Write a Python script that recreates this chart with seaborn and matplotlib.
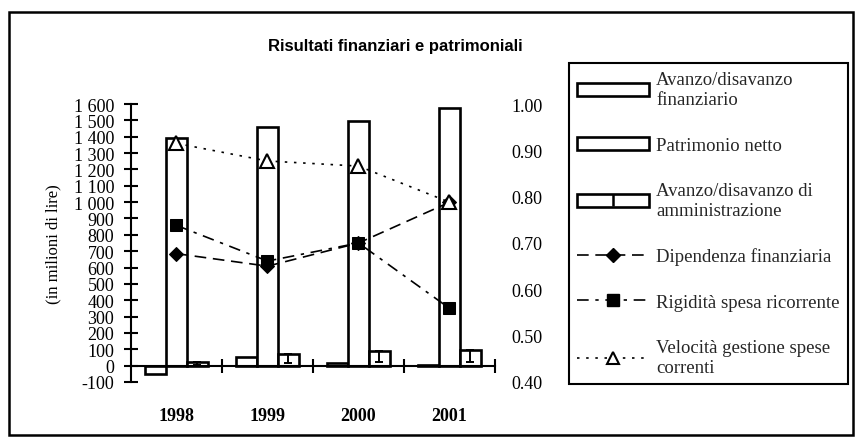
import matplotlib
matplotlib.use('Agg')
import matplotlib.pyplot as plt
import seaborn as sns
import pandas as pd
from matplotlib.patches import Patch, Rectangle
from matplotlib.lines import Line2D
from matplotlib.legend_handler import HandlerTuple

# ---------------- data ----------------
years = ['1998', '1999', '2000', '2001']
avanzo_finanziario = [-50, 55, 18, 4]
patrimonio_netto = [1395, 1460, 1495, 1575]
avanzo_amministrazione = [20, 72, 92, 96]
amministrazione_err = [14, 55, 70, 72]
dipendenza_finanziaria = [0.677, 0.650, 0.700, 0.788]
rigidita_spesa = [0.738, 0.661, 0.700, 0.559]
velocita_gestione = [0.915, 0.877, 0.866, 0.788]

bar_series = ['Avanzo/disavanzo\nfinanziario', 'Patrimonio netto',
              'Avanzo/disavanzo di\namministrazione']
line_labels = ['Dipendenza finanziaria', 'Rigidità spesa ricorrente',
               'Velocità gestione spese\ncorrenti']
left_ticks = list(range(-100, 1601, 100))
right_ticks = [0.40, 0.50, 0.60, 0.70, 0.80, 0.90, 1.00]
title = 'Risultati finanziari e patrimoniali'
ylabel = '(in milioni di lire)'

# ---------------- style ----------------
sns.set_theme(style='white')
plt.rcParams['font.family'] = ['Liberation Serif', 'DejaVu Serif']
plt.rcParams['axes.linewidth'] = 1.5

W, H = 856, 439
fig = plt.figure(figsize=(W / 100, H / 100), dpi=100)
ax = fig.add_axes([131 / W, 1 - 383 / H, 364 / W, 278 / H])

df = pd.DataFrame({
    'year': years * 3,
    'series': [s for s in bar_series for _ in years],
    'value': avanzo_finanziario + patrimonio_netto + avanzo_amministrazione,
})
sns.barplot(data=df, x='year', y='value', hue='series', hue_order=bar_series,
            palette=['white'] * 3, saturation=1, width=0.69, edgecolor='black',
            linewidth=1.9, errorbar=None, legend=False, ax=ax)

# I-beam marks inside the "amministrazione" bars
for p, e in zip(ax.containers[2], amministrazione_err):
    xc = p.get_x() + p.get_width() / 2
    top = p.get_y() + p.get_height()
    ax.errorbar(xc, top, yerr=[[e], [0]], fmt='none', ecolor='black',
                elinewidth=1.4, capsize=3, capthick=1.4, zorder=5)

ax.set_xlim(-0.5, 3.5)
ax.set_ylim(-100, 1600)
ax.set_yticks(left_ticks)
ax.set_yticklabels([f"{v:,}".replace(',', ' ') for v in left_ticks])
ax.tick_params(axis='y', direction='inout', length=10, width=1.5,
               labelsize=13, pad=7, left=True, colors='black')
for s in ['top', 'right']:
    ax.spines[s].set_visible(False)
ax.spines['bottom'].set_position(('data', 0))
ax.spines['left'].set_color('black')
ax.spines['bottom'].set_color('black')

ax.set_xticks(range(len(years)))
ax.set_xticklabels(years, fontsize=13, fontweight='bold')
ax.tick_params(axis='x', which='major', length=0, pad=30, colors='black')
ax.set_xticks([i + 0.5 for i in range(len(years))], minor=True)
ax.tick_params(axis='x', which='minor', direction='inout', length=10,
               width=1.5, bottom=True, color='black')
ax.set_xlabel('')
ax.set_ylabel(ylabel, fontsize=12, labelpad=9, color='black')

# ---------------- ratio lines (right axis) ----------------
ax2 = ax.twinx()
xpos = list(range(len(years)))
sns.lineplot(x=xpos, y=dipendenza_finanziaria, ax=ax2, color='black',
             linewidth=1.2, linestyle=(0, (7, 4)), marker='D', markersize=7,
             markeredgecolor='black', zorder=3)
sns.lineplot(x=xpos, y=rigidita_spesa, ax=ax2, color='black',
             linewidth=1.2, linestyle=(0, (7, 4, 2, 4)), marker='s',
             markersize=9, markeredgecolor='black', zorder=4)
sns.lineplot(x=xpos, y=velocita_gestione, ax=ax2, color='black',
             linewidth=1.2, linestyle=(0, (1.5, 4)), marker='^', markersize=10,
             markerfacecolor='white', markeredgecolor='black',
             markeredgewidth=1.5, zorder=5)
ax2.set_ylim(0.40, 1.00)
ax2.set_yticks(right_ticks)
ax2.set_yticklabels([f"{v:.2f}" for v in right_ticks])
ax2.tick_params(axis='y', length=0, pad=12, labelsize=13, colors='black')
for s in ax2.spines.values():
    s.set_visible(False)
ax2.set_xlim(-0.5, 3.5)

# ---------------- legend ----------------
bar_kw = dict(facecolor='white', edgecolor='black', linewidth=1.9)
handles = [
    Patch(**bar_kw),
    Patch(**bar_kw),
    (Patch(**bar_kw), Line2D([], [], marker='|', markersize=9,
                             markeredgewidth=1.8, color='black', linestyle='none')),
    Line2D([], [], color='black', lw=1.2, linestyle=(0, (7, 4)),
           marker='D', markersize=7),
    Line2D([], [], color='black', lw=1.2, linestyle=(0, (7, 4, 2, 4)),
           marker='s', markersize=9),
    Line2D([], [], color='black', lw=1.2, linestyle=(0, (1.5, 4)),
           marker='^', markersize=9, markerfacecolor='white',
           markeredgewidth=1.5),
]
leg = fig.legend(handles, bar_series + line_labels, loc='upper left',
                 bbox_to_anchor=(569 / W, 1 - 64 / H), frameon=True,
                 fancybox=False, edgecolor='black', framealpha=1,
                 fontsize=13.5, handlelength=3.8, handletextpad=0.4,
                 borderpad=0.45, labelspacing=1.52, numpoints=1,
                 borderaxespad=0,
                 handler_map={tuple: HandlerTuple(ndivide=1)})
leg.get_frame().set_linewidth(1.5)

# ---------------- title & frame ----------------
fig.text(395 / W, 1 - 47 / H, title, ha='center', va='center',
         fontsize=12, fontweight='bold',
         family=['Liberation Sans', 'DejaVu Sans'], color='black')
fig.add_artist(Rectangle((9 / W, 1 - 436 / H), (853 - 9) / W, (436 - 13) / H,
                         transform=fig.transFigure, fill=False,
                         edgecolor='black', linewidth=1.8))

fig.savefig('out.png', dpi=100)
